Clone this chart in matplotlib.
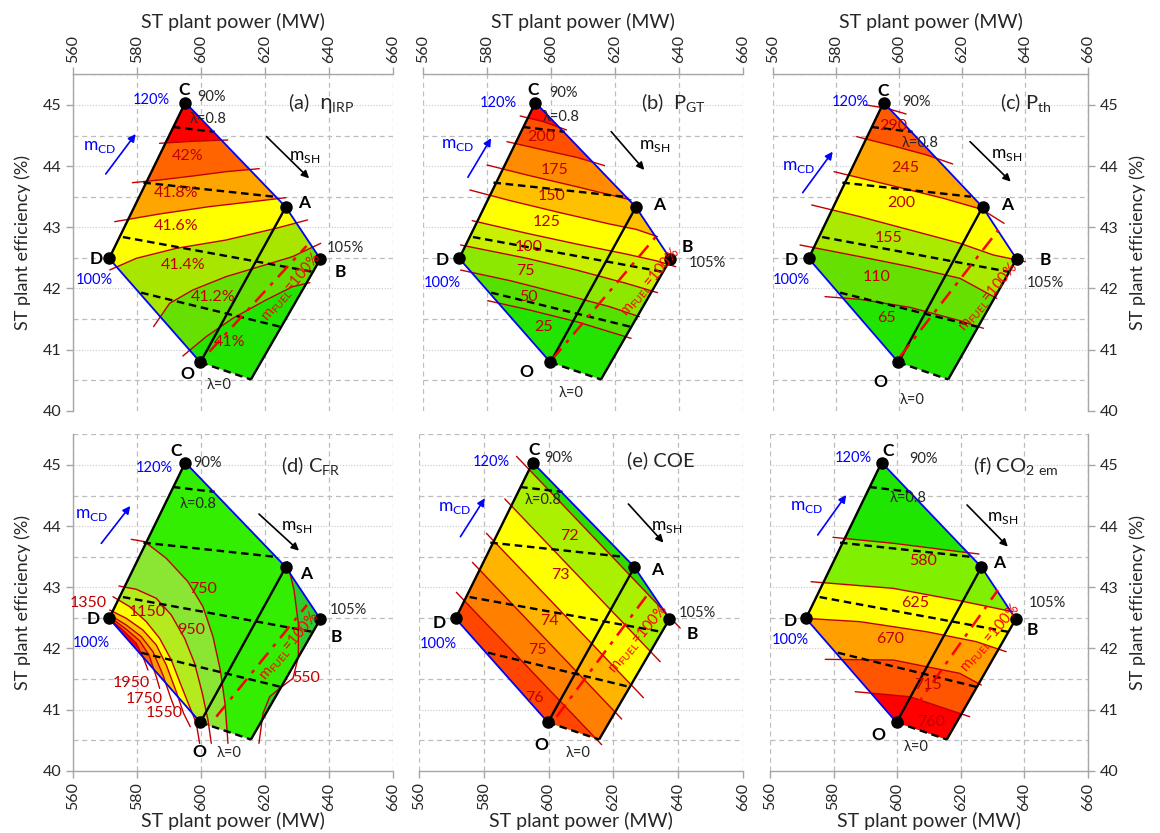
import numpy as np
import matplotlib
matplotlib.use("Agg")
import matplotlib.pyplot as plt
from matplotlib.patches import Polygon

plt.rcParams["font.family"] = ["Lato", "DejaVu Sans"]
plt.rcParams["mathtext.fontset"] = "custom"
plt.rcParams["mathtext.rm"] = "Lato"
plt.rcParams["mathtext.it"] = "DejaVu Sans"
plt.rcParams["mathtext.bf"] = "Lato:bold"

# ---------------- data ----------------
# operating-region vertices (ST plant power MW, ST plant efficiency %)
pt_names = ["C", "A", "B", "D", "O"]
pt_x = [595.1, 626.5, 637.3, 571.3, 599.8]
pt_y = [45.04, 43.33, 42.48, 42.49, 40.79]

# region outline D-C-A-B-E-O
region_x = [571.3, 595.1, 626.5, 637.3, 615.6, 599.8]
region_y = [42.49, 45.04, 43.33, 42.48, 40.51, 40.79]

# solid black lines: D-C, O-A, E-B
solid_x = [[571.3, 595.1], [599.8, 626.5], [615.6, 637.3]]
solid_y = [[42.49, 45.04], [40.79, 43.33], [40.51, 42.48]]
# blue boundaries: C-A-B and D-O
blue_x = [[595.1, 626.5, 637.3], [571.3, 599.8]]
blue_y = [[45.04, 43.33, 42.48], [42.49, 40.79]]
# dashed lambda lines (0.8, 0.6, 0.4, 0.2, 0)
lam_x = [[591.2, 604.3], [582.0, 622.8], [575.6, 635.0], [581.3, 625.0], [599.8, 615.6]]
lam_y = [[44.64, 44.56], [43.73, 43.50], [42.84, 42.27], [41.93, 41.37], [40.79, 40.51]]

# (a) eta_IRP contours
eta_levels = [41.0, 41.2, 41.4, 41.6, 41.8, 42.0]
eta_labels = ["41%", "41.2%", "41.4%", "41.6%", "41.8%", "42%"]
eta_cx = [[594.33, 601.6, 609.91, 620.29, 628.6, 634.0],
          [585.19, 590.18, 597.45, 607.83, 618.21, 628.6, 637.42],
          [571.49, 579.79, 592.25, 607.83, 623.41, 633.27],
          [573.04, 587.06, 602.64, 616.14, 626.52],
          [578.55, 587.06, 597.45, 607.83, 618.21],
          [587.06, 597.45, 608.35]]
eta_cy = [[40.894, 41.21, 41.51, 41.81, 42.028, 42.094],
          [41.374, 41.755, 41.974, 42.192, 42.355, 42.519, 42.737],
          [42.301, 42.492, 42.655, 42.791, 42.982, 43.119],
          [43.091, 43.217, 43.337, 43.419, 43.484],
          [43.729, 43.773, 43.838, 43.909, 43.958],
          [44.373, 44.406, 44.427]]
eta_lx = [608.87, 603.68, 594.33, 592.25, 592.25, 595.9]
eta_ly = [41.128, 41.854, 42.382, 43.02, 43.566, 44.166]
eta_fuel_x = [602.64, 632.96]
eta_fuel_y = [40.965, 42.693]

# (b) P_GT contours
pgt_levels = [25, 50, 75, 100, 125, 150, 175, 200]
pgt_labels = ["25", "50", "75", "100", "125", "150", "175", "200"]
pgt_cx = [[580.21, 592.41, 607.93, 624.99],
          [571.73, 587.24, 602.75, 618.27, 627.57],
          [571.73, 592.41, 607.93, 623.44, 633.26],
          [575.35, 592.41, 607.93, 623.44, 632.74, 638.95],
          [574.63, 587.24, 602.75, 618.27, 626.54, 633.26],
          [580.0, 592.41, 607.93, 624.99],
          [586.21, 597.58, 607.93, 616.72],
          [590.35, 597.58, 604.82]]
pgt_cy = [[41.799, 41.657, 41.456, 41.183],
          [42.3, 42.126, 41.919, 41.701, 41.537],
          [42.71, 42.492, 42.3, 42.083, 41.93],
          [43.108, 42.901, 42.726, 42.562, 42.453, 42.355],
          [43.609, 43.435, 43.239, 43.053, 42.966, 42.846],
          [44.018, 43.855, 43.664, 43.446],
          [44.4, 44.264, 44.144, 44.008],
          [44.82, 44.727, 44.591]]
pgt_lx = [597.58, 592.93, 591.9, 592.93, 598.62, 600.17, 601.2, 597.07]
pgt_ly = [41.374, 41.865, 42.29, 42.682, 43.092, 43.511, 43.937, 44.482]
pgt_fuel_x = [600.17, 632.74]
pgt_fuel_y = [40.828, 42.846]

# (c) P_th contours
pth_levels = [65, 110, 155, 200, 245, 290]
pth_labels = ["65", "110", "155", "200", "245", "290"]
pth_cx = [[576.51, 587.62, 603.49, 619.36, 626.77],
          [568.57, 587.62, 603.49, 619.36, 631.0],
          [572.27, 587.62, 603.49, 619.36, 629.94, 640.0],
          [579.36, 598.2, 614.07, 626.24, 633.33],
          [586.56, 598.2, 608.78, 617.03],
          [589.52, 596.08, 602.22]]
pth_cy = [[41.865, 41.821, 41.69, 41.472, 41.347],
          [42.71, 42.519, 42.355, 42.164, 41.837],
          [43.364, 43.173, 42.955, 42.737, 42.546, 42.437],
          [43.909, 43.675, 43.473, 43.293, 43.064],
          [44.482, 44.329, 44.182, 44.035],
          [45.0, 44.945, 44.853]]
pth_lx = [596.08, 592.91, 596.61, 600.84, 601.9, 598.2]
pth_ly = [41.51, 42.192, 42.819, 43.391, 43.964, 44.656]
pth_fuel_x = [600.31, 631.53]
pth_fuel_y = [40.883, 42.955]

# (d) C_FR contours
cfr_levels = [550, 750, 950, 1150, 1350, 1550, 1750, 1950]
cfr_labels = ["550", "750", "950", "1150", "1350", "1550", "1750", "1950"]
cfr_cx = [[626.98, 629.06, 630.42, 630.42, 628.75, 624.58, 621.46, 619.37, 618.12],
          [578.23, 582.39, 589.16, 595.93, 600.62, 603.75, 606.04, 607.5, 608.44],
          [574.37, 579.79, 586.04, 590.73, 594.89, 598.02, 600.42, 602.19, 603.23],
          [572.5, 577.71, 582.91, 587.08, 590.73, 593.54, 596.46, 598.54, 599.58],
          [571.46, 576.66, 581.87, 586.04, 589.16, 592.08, 594.58, 596.66],
          [571.25, 576.66, 581.35, 585.0, 588.12, 590.41, 591.77],
          [571.14, 576.66, 580.83, 583.75, 586.04, 587.08],
          [571.04, 576.14, 579.79, 582.08, 583.44]]
cfr_cy = [[43.419, 42.955, 42.41, 41.864, 41.51, 41.347, 41.21, 40.937, 40.447],
          [43.784, 43.746, 43.473, 43.091, 42.682, 42.192, 41.646, 41.101, 40.447],
          [43.021, 42.967, 42.819, 42.546, 42.164, 41.755, 41.265, 40.828, 40.447],
          [42.846, 42.683, 42.437, 42.164, 41.81, 41.428, 41.046, 40.774, 40.447],
          [42.628, 42.492, 42.3, 42.055, 41.728, 41.319, 40.937, 40.719],
          [42.557, 42.382, 42.192, 41.946, 41.565, 41.21, 41.019],
          [42.53, 42.312, 42.126, 41.892, 41.537, 41.346],
          [42.508, 42.273, 42.083, 41.837, 41.646]]
cfr_lx = [632.9, 600.62, 596.98, 583.12, 564.68, 588.64, 582.39, 578.23]
cfr_ly = [41.51, 42.966, 42.3, 42.6, 42.737, 40.937, 41.166, 41.43]
cfr_fuel_x = [604.79, 633.12]
cfr_fuel_y = [40.883, 42.71]

# (e) COE contours
coe_levels = [72, 73, 74, 75, 76]
coe_labels = ["72", "73", "74", "75", "76"]
coe_cx = [[590.1, 640.61], [586.49, 634.43], [580.82, 629.27],
          [576.49, 622.57], [571.54, 616.39]]
coe_cy = [[45.142, 42.333], [44.444, 41.783], [43.882, 41.194],
          [43.408, 40.845], [42.917, 40.425]]
coe_lx = [606.39, 603.5, 600.2, 596.59, 595.77]
coe_ly = [43.838, 43.2, 42.453, 41.973, 41.183]
coe_fuel_x = [602.47, 630.82]
coe_fuel_y = [40.883, 42.9]

# (f) CO2 emission contours
co2_levels = [580, 625, 670, 715, 760]
co2_labels = ["580", "625", "670", "715", "760"]
co2_cx = [[579.8, 598.79, 619.67, 625.72],
          [572.91, 598.79, 619.67, 636.37],
          [571.13, 588.35, 609.23, 624.89, 634.28],
          [577.39, 598.79, 619.67, 626.45],
          [586.79, 604.01, 622.8]]
co2_cy = [[43.817, 43.719, 43.582, 43.544],
          [43.091, 42.982, 42.78, 42.6],
          [42.492, 42.437, 42.273, 42.11, 41.946],
          [41.821, 41.81, 41.592, 41.401],
          [41.292, 41.21, 40.883]]
co2_lx = [608.19, 605.58, 597.75, 609.75, 610.8]
co2_ly = [43.43, 42.737, 42.148, 41.401, 40.801]
co2_fuel_x = [605.05, 631.67]
co2_fuel_y = [40.992, 42.955]

# ---------------- styles / layout ----------------
ann_a = dict(C=(594.85, 45.245), p90=(603.16, 45.136), p120=(584.47, 45.082),
             l08=(602.12, 44.765), mcd=(568.37, 44.307), mcd_arr=((570.24, 43.871), (579.59, 44.525)),
             msh=(632.23, 44.144), msh_arr=((620.5, 44.482), (633.79, 43.8)),
             A=(632.23, 43.391), p105=(645.21, 42.655), B=(643.66, 42.273),
             D=(567.33, 42.48), p100=(566.81, 42.137), O=(595.89, 40.6), l0=(605.75, 40.42),
             title=(627.04, 45.027), fuel=(628.3, 42.02))
ann_b = dict(C=(594.27, 45.245), p90=(603.79, 45.191), p120=(583.62, 45.027),
             l08=(603.27, 44.809), mcd=(570.7, 44.346), mcd_arr=((574.01, 43.817), (581.25, 44.455)),
             msh=(632.23, 44.329), msh_arr=((618.78, 44.564), (629.12, 43.937)),
             A=(633.78, 43.364), p105=(648.77, 42.421), B=(642.57, 42.682),
             D=(566.04, 42.464), p100=(566.04, 42.083), O=(592.21, 40.638), l0=(606.37, 40.294),
             title=(628.09, 45.027), fuel=(631.0, 42.1))
ann_c = dict(C=(595.02, 45.234), p90=(605.39, 45.044), p120=(584.44, 45.054),
             l08=(606.66, 44.373), mcd=(568.04, 43.991), mcd_arr=((569.42, 43.566), (578.94, 44.236)),
             msh=(634.18, 44.182), msh_arr=((622.54, 44.4), (635.45, 43.746)),
             A=(634.39, 43.364), p105=(646.35, 42.083), B=(646.35, 42.464),
             D=(565.61, 42.464), p100=(565.92, 42.137), O=(593.97, 40.474), l0=(604.02, 40.174),
             title=(632.06, 45.027), fuel=(628.3, 41.86))
ann_d = dict(C=(592.29, 45.234), p90=(602.19, 45.038), p120=(585.52, 44.945),
             l08=(599.06, 44.362), mcd=(565.73, 44.182), mcd_arr=((568.85, 43.718), (577.91, 44.329)),
             msh=(629.79, 43.991), msh_arr=((618.12, 44.198), (630.63, 43.598)),
             A=(632.71, 43.217), p105=(645.94, 42.628), B=(642.29, 42.18),
             D=(566.25, 42.475), p100=(565.73, 42.083), O=(599.58, 40.31), l0=(608.75, 40.283),
             title=(625.1, 44.973), fuel=(627.6, 42.03))
ann_e = dict(C=(595.46, 45.245), p90=(602.99, 45.109), p120=(582.37, 45.054),
             l08=(598.35, 44.427), mcd=(571.03, 44.291), mcd_arr=((572.78, 43.827), (580.31, 44.455)),
             msh=(636.49, 43.991), msh_arr=((624.63, 44.362), (635.46, 43.73)),
             A=(633.4, 43.282), p105=(645.77, 42.584), B=(644.22, 42.235),
             D=(566.18, 42.41), p100=(565.87, 42.072), O=(597.83, 40.419), l0=(609.17, 40.294),
             title=(624.12, 45.082), fuel=(627.6, 42.15))
ann_f = dict(C=(597.23, 45.234), p90=(608.19, 45.093), p120=(586.06, 45.109),
             l08=(603.49, 44.455), mcd=(571.65, 44.318), mcd_arr=((575.0, 43.855), (583.97, 44.509)),
             msh=(633.24, 44.128), msh_arr=((621.97, 44.346), (634.8, 43.664)),
             A=(632.19, 43.391), p105=(647.33, 42.737), B=(642.63, 42.3),
             D=(566.43, 42.45), p100=(566.43, 42.13), O=(594.1, 40.583), l0=(606.1, 40.392),
             title=(623.84, 44.973), fuel=(629.3, 42.17))

panels = [
    dict(rect=[0.0629, 0.507, 0.2759, 0.4037], title=r"(a)  $\eta_{\mathrm{IRP}}$",
         levels=eta_levels, labels=eta_labels, cx=eta_cx, cy=eta_cy, lx=eta_lx, ly=eta_ly,
         fx=eta_fuel_x, fy=eta_fuel_y, normal=(0, 1), ann=ann_a, top=True, yside="left",
         colors=["#22E400", "#66E000", "#A8E600", "#FFFF00", "#FFA500", "#FF6400", "#FF0000"]),
    dict(rect=[0.3647, 0.507, 0.2759, 0.4037], title=r"(b)  P$_{\mathrm{GT}}$",
         levels=pgt_levels, labels=pgt_labels, cx=pgt_cx, cy=pgt_cy, lx=pgt_lx, ly=pgt_ly,
         fx=pgt_fuel_x, fy=pgt_fuel_y, normal=(0, 1), ann=ann_b, top=True, yside=None,
         colors=["#22E400", "#55E000", "#8CE800", "#C8F000", "#FFFF00", "#FFC000",
                 "#FF8C00", "#FF5000", "#FF1000"]),
    dict(rect=[0.6664, 0.507, 0.2716, 0.4037], title=r"(c) P$_{\mathrm{th}}$",
         levels=pth_levels, labels=pth_labels, cx=pth_cx, cy=pth_cy, lx=pth_lx, ly=pth_ly,
         fx=pth_fuel_x, fy=pth_fuel_y, normal=(0, 1), ann=ann_c, top=True, yside="right",
         colors=["#22E400", "#66E000", "#AAEA00", "#FFFF00", "#FFA500", "#FF5A00", "#FF2000"]),
    dict(rect=[0.0629, 0.0748, 0.2759, 0.4037], title=r"(d) C$_{\mathrm{FR}}$",
         levels=cfr_levels, labels=cfr_labels, cx=cfr_cx, cy=cfr_cy, lx=cfr_lx, ly=cfr_ly,
         fx=cfr_fuel_x, fy=cfr_fuel_y, normal=(-1, -1), ann=ann_d, top=False, yside="left",
         colors=["#2ECC2E", "#33EE00", "#8AE632", "#B4EA1E", "#FFFF00", "#FFC000",
                 "#FF9600", "#FF6400", "#FF0000"]),
    dict(rect=[0.3612, 0.0748, 0.2793, 0.4037], title="(e) COE",
         levels=coe_levels, labels=coe_labels, cx=coe_cx, cy=coe_cy, lx=coe_lx, ly=coe_ly,
         fx=coe_fuel_x, fy=coe_fuel_y, normal=(-1, -1), ann=ann_e, top=False, yside=None,
         colors=["#2EDC00", "#AAF000", "#FFFF00", "#FFB400", "#FF8000", "#FF4600"]),
    dict(rect=[0.6638, 0.0748, 0.2741, 0.4037], title=r"(f) CO$_{\mathrm{2\ em}}$",
         levels=co2_levels, labels=co2_labels, cx=co2_cx, cy=co2_cy, lx=co2_lx, ly=co2_ly,
         fx=co2_fuel_x, fy=co2_fuel_y, normal=(0, -1), ann=ann_f, top=False, yside="right",
         colors=["#1EE600", "#80F000", "#FFFF00", "#FFA000", "#FF5500", "#FF0000"]),
]

CONTOUR_RED = "#C00000"
GRID = "#BDBDBD"
SPINE = "#A6A6A6"
TXT = "#262626"


def high_side(xs, ys, nvec, ext=3.0, far=3.0):
    """polygon covering the side of a contour line where values are higher"""
    P = np.column_stack([(np.asarray(xs, float) - 560) / 100.0,
                         (np.asarray(ys, float) - 40) / 5.5])
    d0 = P[0] - P[1]
    d0 /= np.hypot(*d0)
    d1 = P[-1] - P[-2]
    d1 /= np.hypot(*d1)
    n = np.asarray(nvec, float)
    n /= np.hypot(*n)
    s = P[0] + ext * d0
    e = P[-1] + ext * d1
    Q = np.vstack([s + far * n, s, P, e, e + far * n])
    return np.column_stack([Q[:, 0] * 100 + 560, Q[:, 1] * 5.5 + 40])


def style_axes(ax, top, yside):
    ax.set_xlim(560, 660)
    ax.set_ylim(40, 45.5)
    ax.set_xticks(np.arange(560, 661, 20))
    ax.set_yticks(np.arange(40, 45.01, 1))
    ax.set_yticks(np.arange(40.5, 45.51, 1), minor=True)
    ax.set_axisbelow(True)
    ax.grid(True, axis="x", which="major", color=GRID, lw=0.9, ls=(0, (4, 3)))
    ax.grid(True, axis="y", which="major", color="#C8C8C8", lw=0.8, ls=(0, (1, 1.5)))
    ax.grid(True, axis="y", which="minor", color=GRID, lw=0.9, ls=(0, (4, 3)))
    for s in ax.spines.values():
        s.set_visible(False)
        s.set_color(SPINE)
        s.set_linewidth(1.0)
    if top:
        ax.xaxis.tick_top()
        ax.xaxis.set_label_position("top")
        ax.spines["top"].set_visible(True)
        pad = 5
    else:
        ax.spines["bottom"].set_visible(True)
        pad = 1
    ax.tick_params(axis="x", which="major", direction="out", length=5, width=1,
                   color=SPINE, labelsize=11.5, labelcolor=TXT, labelrotation=90)
    ax.set_xlabel("ST plant power (MW)", fontsize=14, color=TXT, labelpad=pad)
    ax.tick_params(axis="y", which="minor", length=0)
    if yside == "left":
        ax.spines["left"].set_visible(True)
        ax.tick_params(axis="y", which="major", direction="out", length=5, width=1,
                       color=SPINE, labelsize=11.5, labelcolor=TXT)
        ax.set_ylabel("ST plant efficiency (%)", fontsize=13, color=TXT, labelpad=8)
    elif yside == "right":
        ax.yaxis.tick_right()
        ax.yaxis.set_label_position("right")
        ax.spines["right"].set_visible(True)
        ax.tick_params(axis="y", which="major", direction="out", length=5, width=1,
                       color=SPINE, labelsize=11.5, labelcolor=TXT)
        ax.set_ylabel("ST plant efficiency (%)", fontsize=13, color=TXT, labelpad=8,
                      rotation=90)
    else:
        ax.tick_params(axis="y", which="both", left=False, right=False,
                       labelleft=False, labelright=False)


def draw_panel(ax, p):
    clip = Polygon(np.column_stack([region_x, region_y]), closed=True,
                   transform=ax.transData)
    base = Polygon(np.column_stack([region_x, region_y]), closed=True,
                   facecolor=p["colors"][0], edgecolor="none", zorder=1)
    ax.add_patch(base)
    for k in range(len(p["levels"])):
        poly = high_side(p["cx"][k], p["cy"][k], p["normal"])
        patch = Polygon(poly, closed=True, facecolor=p["colors"][k + 1],
                        edgecolor="none", lw=0, zorder=1)
        ax.add_patch(patch)
        patch.set_clip_path(clip)
    for k in range(len(p["levels"])):
        ax.plot(p["cx"][k], p["cy"][k], color=CONTOUR_RED, lw=1.0, zorder=2,
                solid_capstyle="round")
        ax.text(p["lx"][k], p["ly"][k], p["labels"][k], color=CONTOUR_RED,
                fontsize=11.5, ha="center", va="center", zorder=6)
    for xs, ys in zip(lam_x, lam_y):
        ax.plot(xs, ys, color="black", lw=1.7, ls=(0, (3.2, 2.0)), zorder=3)
    for xs, ys in zip(solid_x, solid_y):
        ax.plot(xs, ys, color="black", lw=1.7, zorder=3.5, solid_capstyle="butt")
    for xs, ys in zip(blue_x, blue_y):
        ax.plot(xs, ys, color="#0000FF", lw=1.3, zorder=3.4)
    ax.plot(p["fx"], p["fy"], color="#FF0000", lw=1.8, ls=(0, (6, 3, 1.5, 3)), zorder=4)
    ax.plot(pt_x, pt_y, "o", color="black", ms=8, zorder=5)

    a = p["ann"]
    ax.text(*a["fuel"], r"m$_{\mathrm{FUEL}}$=100%", color="#FF0000", fontsize=10.5,
            rotation=50, ha="center", va="center", zorder=6)
    for name in pt_names:
        ax.text(*a[name], name, fontsize=12.5, fontweight="bold", color="black",
                ha="center", va="center", zorder=6)
    ax.text(*a["p90"], "90%", fontsize=10.5, color=TXT, ha="center", va="center", zorder=6)
    ax.text(*a["p105"], "105%", fontsize=10.5, color=TXT, ha="center", va="center", zorder=6)
    ax.text(*a["p120"], "120%", fontsize=10.5, color="#0000FF", ha="center", va="center", zorder=6)
    ax.text(*a["p100"], "100%", fontsize=10.5, color="#0000FF", ha="center", va="center", zorder=6)
    ax.text(*a["l08"], "λ=0.8", fontsize=10.5, color=TXT, ha="center", va="center", zorder=6)
    ax.text(*a["l0"], "λ=0", fontsize=10.5, color=TXT, ha="center", va="center", zorder=6)
    ax.text(*a["mcd"], r"m$_{\mathrm{CD}}$", fontsize=12.5, color="#0000FF",
            ha="center", va="center", zorder=6)
    ax.text(*a["msh"], r"m$_{\mathrm{SH}}$", fontsize=12.5, color="black",
            ha="center", va="center", zorder=6)
    ax.annotate("", xy=a["mcd_arr"][1], xytext=a["mcd_arr"][0],
                arrowprops=dict(arrowstyle="-|>", color="#0000FF", lw=1.2,
                                mutation_scale=11, shrinkA=0, shrinkB=0), zorder=6)
    ax.annotate("", xy=a["msh_arr"][1], xytext=a["msh_arr"][0],
                arrowprops=dict(arrowstyle="-|>", color="black", lw=1.2,
                                mutation_scale=11, shrinkA=0, shrinkB=0), zorder=6)
    ax.text(*a["title"], p["title"], fontsize=14.5, color=TXT, ha="left", va="center", zorder=6)


fig = plt.figure(figsize=(11.6, 8.33), dpi=100)
for p in panels:
    ax = fig.add_axes(p["rect"])
    draw_panel(ax, p)
    style_axes(ax, p["top"], p["yside"])

fig.savefig("out.png", dpi=100, facecolor="white")
